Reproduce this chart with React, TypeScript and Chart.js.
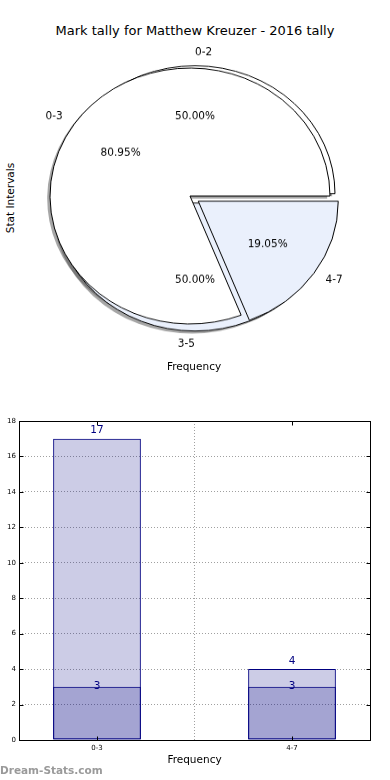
import React, { useEffect, useRef } from 'react';
import { Chart, registerables } from 'chart.js';

Chart.register(...registerables);

// ---------- data ----------
const TITLE = 'Mark tally for Matthew Kreuzer - 2016 tally';
// main pie (drawn on top)
const pieLabels = ['0-3', '4-7'];
const pieValues = [17, 4];
// secondary pie (drawn beneath)
const subPieLabels = ['0-2', '3-5'];
const subPieValues = [3, 3];

// bar chart
const barCategories = ['0-3', '4-7'];
const barTotals = [17, 4];
const barSubs = [3, 3];
const yMin = 0;
const yMax = 18;
const yStep = 2;

// ---------- styles ----------
const FONT = "'DejaVu Sans', sans-serif";
const PALE_BLUE = '#eaf0fc';
const pieColors = ['#ffffff', PALE_BLUE];
const subPieColors = ['#ffffff', PALE_BLUE];
const pieExplode = [0, 10]; // px, along each slice's mid angle
const subPieExplode = [2.5, 7.7];
const SY = 0.914; // vertical squash of the pie (matplotlib non-equal aspect)
const PIE_R = 140;
const SHADOW = 'rgba(77,77,77,0.5)';
const SHADOW_DX = -2.8;
const SHADOW_DY = 2.8;
const BAR_FILL = 'rgba(0,0,128,0.2)';
const NAVY = '#000080';

const rev = <T,>(a: T[]) => a.slice().reverse();

function TextAt({ x, y, text, size, rotate, color, weight, align }: any) {
  return (
    <div
      style={{
        position: 'absolute',
        left: x,
        top: y,
        transform: `translate(${align === 'left' ? '0' : '-50%'}, -50%)${rotate ? ` rotate(${rotate}deg)` : ''}`,
        whiteSpace: 'nowrap',
        fontSize: size,
        lineHeight: 1,
        color: color || '#000',
        fontWeight: weight || 'normal',
        fontFamily: FONT,
      }}
    >
      {text}
    </div>
  );
}

const midOf = (arc: any) => (arc.startAngle + arc.endAngle) / 2;

export default function App() {
  const subRef = useRef<HTMLCanvasElement>(null);
  const pieRef = useRef<HTMLCanvasElement>(null);
  const barRef = useRef<HTMLCanvasElement>(null);

  useEffect(() => {
    const holder: { sub: any; main: any } = { sub: null, main: null };

    // draw each arc translated by its explode distance (instead of Chart.js offset, which also grows the radius)
    const explodePlugin = {
      id: 'explode',
      beforeDatasetDraw(chart: any, args: any) {
        const ex: number[] = chart.options.plugins.explode.values;
        const ctx = chart.ctx;
        args.meta.data.forEach((arc: any, i: number) => {
          const m = midOf(arc);
          ctx.save();
          ctx.translate(Math.cos(m) * ex[i], Math.sin(m) * ex[i]);
          arc.draw(ctx);
          ctx.restore();
        });
        return false;
      },
    };

    // shadows of both pies, beneath all wedges
    const shadowPlugin = {
      id: 'pieShadow',
      beforeDatasetsDraw(chart: any) {
        const ctx = chart.ctx;
        [holder.main, chart].forEach((c: any) => {
          if (!c) return;
          const ex: number[] = c.options.plugins.explode.values;
          c.getDatasetMeta(0).data.forEach((arc: any, i: number) => {
            const m = midOf(arc);
            ctx.save();
            ctx.translate(Math.cos(m) * ex[i] + SHADOW_DX, Math.sin(m) * ex[i] + SHADOW_DY);
            ctx.beginPath();
            ctx.moveTo(arc.x, arc.y);
            ctx.arc(arc.x, arc.y, arc.outerRadius, arc.startAngle, arc.endAngle);
            ctx.closePath();
            ctx.fillStyle = SHADOW;
            ctx.fill();
            ctx.restore();
          });
        });
      },
    };

    const pieText = {
      id: 'pieText',
      afterDraw(chart: any) {
        const ctx = chart.ctx;
        const draw = (c: any) => {
          if (!c) return;
          const meta = c.getDatasetMeta(0);
          const vals: number[] = c.data.datasets[0].data;
          const labels: string[] = c.data.labels;
          const ex: number[] = c.options.plugins.explode.values;
          const total = vals.reduce((a, b) => a + b, 0);
          meta.data.forEach((arc: any, i: number) => {
            const mid = midOf(arc);
            const cx = arc.x + Math.cos(mid) * ex[i];
            const cy = arc.y + Math.sin(mid) * ex[i];
            const mplTheta = 2 * Math.PI - mid;
            const put = (s: string, r: number, align: CanvasTextAlign) => {
              ctx.save();
              ctx.translate(cx + Math.cos(mid) * r, cy + Math.sin(mid) * r);
              ctx.scale(1, 1 / SY);
              ctx.font = `10.5px ${FONT}`;
              ctx.fillStyle = '#000';
              ctx.textAlign = align;
              ctx.textBaseline = 'middle';
              ctx.fillText(s, 0, 0);
              ctx.restore();
            };
            put(labels[i], arc.outerRadius * 1.1, Math.cos(mplTheta) > 0 ? 'left' : 'right');
            put(((vals[i] / total) * 100).toFixed(2) + '%', arc.outerRadius * 0.6, 'center');
          });
        };
        draw(holder.sub);
        draw(chart);
      },
    };

    const pieOptions = (padRight: number, explode: number[]) => ({
      animation: false,
      responsive: false,
      rotation: 90,
      radius: PIE_R,
      layout: { padding: { left: 0, right: padRight, top: 0, bottom: 0 } },
      plugins: {
        legend: { display: false },
        tooltip: { enabled: false },
        title: { display: false },
        explode: { values: rev(explode) },
      },
    });

    const pieChart = new Chart(pieRef.current!, {
      type: 'pie',
      data: {
        labels: rev(pieLabels),
        datasets: [
          {
            data: rev(pieValues),
            backgroundColor: rev(pieColors),
            borderColor: '#000',
            borderWidth: 1,
          },
        ],
      },
      options: pieOptions(10, pieExplode) as any,
      plugins: [explodePlugin, pieText],
    });
    holder.main = pieChart;

    const subChart = new Chart(subRef.current!, {
      type: 'pie',
      data: {
        labels: rev(subPieLabels),
        datasets: [
          {
            data: rev(subPieValues),
            backgroundColor: rev(subPieColors),
            borderColor: '#000',
            borderWidth: 1,
          },
        ],
      },
      options: pieOptions(0, subPieExplode) as any,
      plugins: [shadowPlugin, explodePlugin],
    });
    holder.sub = subChart;
    pieChart.draw();

    const barDecor = {
      id: 'barDecor',
      afterDatasetsDraw(chart: any) {
        const ctx = chart.ctx;
        const { left, right, top, bottom } = chart.chartArea;
        const xs = chart.scales.x;
        const ys = chart.scales.y;
        ctx.save();
        ctx.strokeStyle = '#000';
        ctx.lineWidth = 1;
        const L = Math.round(left) + 0.5;
        const R = Math.round(right) + 0.5;
        const T = Math.round(top) + 0.5;
        const B = Math.round(bottom) + 0.5;
        ctx.beginPath();
        ys.ticks.forEach((tk: any) => {
          const py = Math.round(ys.getPixelForValue(tk.value)) + 0.5;
          ctx.moveTo(L, py); ctx.lineTo(L + 4, py);
          ctx.moveTo(R - 4, py); ctx.lineTo(R, py);
        });
        xs.ticks.forEach((tk: any) => {
          const px = Math.round(xs.getPixelForValue(tk.value)) + 0.5;
          ctx.moveTo(px, B); ctx.lineTo(px, B - 4);
          ctx.moveTo(px, T); ctx.lineTo(px, T + 4);
        });
        ctx.stroke();
        ctx.strokeRect(L, T, R - L, B - T);

        ctx.font = `10.5px ${FONT}`;
        ctx.fillStyle = NAVY;
        ctx.textAlign = 'center';
        chart.data.datasets.forEach((ds: any, di: number) => {
          const meta = chart.getDatasetMeta(di);
          meta.data.forEach((bar: any, i: number) => {
            const v = ds.data[i].y;
            if (ds.labelMode === 'top') {
              ctx.textBaseline = 'bottom';
              ctx.fillText(String(v), bar.x, bar.y - 3);
            } else {
              ctx.textBaseline = 'middle';
              ctx.fillText(String(v), bar.x, bar.y - 1);
            }
          });
        });
        ctx.restore();
      },
    };

    const tickFont = { family: FONT, size: 7 };
    const barDataset = (label: string, mode: string, vals: number[]) =>
      ({
        label,
        labelMode: mode,
        data: vals.map((v, i) => ({ x: i, y: v })),
        backgroundColor: BAR_FILL,
        borderColor: NAVY,
        borderWidth: 1,
        borderSkipped: false,
        grouped: false,
        categoryPercentage: 1,
        barPercentage: 0.45,
      } as any);

    const barChart = new Chart(barRef.current!, {
      type: 'bar',
      data: {
        datasets: [barDataset('sub', 'mid', barSubs), barDataset('total', 'top', barTotals)],
      },
      options: {
        animation: false,
        responsive: false,
        layout: { padding: { top: 21, right: 20, left: 0, bottom: 0 } },
        plugins: { legend: { display: false }, tooltip: { enabled: false } },
        scales: {
          x: {
            type: 'linear',
            min: -0.4,
            max: 1.4,
            offset: false,
            afterBuildTicks: (s: any) => {
              s.ticks = barCategories.map((_, i) => ({ value: i }));
            },
            afterFit: (s: any) => {
              s.height = 40;
            },
            ticks: {
              callback: (v: any) => barCategories[Math.round(Number(v))] ?? '',
              font: tickFont,
              color: '#000',
              padding: 4,
              autoSkip: false,
              maxRotation: 0,
            },
            grid: { color: '#a0a0a0', lineWidth: 1, drawTicks: false },
            border: { display: false, dash: [1, 2] },
            title: {
              display: true,
              text: 'Frequency',
              color: '#000',
              font: { family: FONT, size: 10.5 },
              padding: { top: 4, bottom: 13 },
            },
          },
          y: {
            min: yMin,
            max: yMax,
            afterFit: (s: any) => {
              s.width = 19;
            },
            ticks: { stepSize: yStep, font: tickFont, color: '#000', padding: 3 },
            grid: { color: '#a0a0a0', lineWidth: 1, drawTicks: false },
            border: { display: false, dash: [1, 2] },
          },
        },
      } as any,
      plugins: [barDecor],
    });

    return () => {
      barChart.destroy();
      subChart.destroy();
      pieChart.destroy();
    };
  }, []);

  const pieCanvasStyle: React.CSSProperties = {
    position: 'absolute',
    left: 0,
    top: 26,
    width: 390,
    height: 340,
    transform: `scaleY(${SY})`,
    transformOrigin: '50% 50%',
  };

  return (
    <div
      style={{
        position: 'absolute',
        left: 0,
        top: 0,
        width: 390,
        height: 780,
        background: '#fff',
        overflow: 'hidden',
        fontFamily: FONT,
      }}
    >
      <TextAt x={195} y={30} text={TITLE} size={13} />
      <TextAt x={10} y={198} text="Stat Intervals" size={10.5} rotate={-90} />
      <canvas ref={subRef} width={390} height={340} style={pieCanvasStyle} />
      <canvas ref={pieRef} width={390} height={340} style={pieCanvasStyle} />
      <TextAt x={194} y={366} text="Frequency" size={10.5} />
      <canvas
        ref={barRef}
        width={390}
        height={380}
        style={{ position: 'absolute', left: 0, top: 400, width: 390, height: 380 }}
      />
      <TextAt x={0} y={770} text="Dream-Stats.com" size={10.5} weight="bold" color="#9a9a9a" align="left" />
    </div>
  );
}
